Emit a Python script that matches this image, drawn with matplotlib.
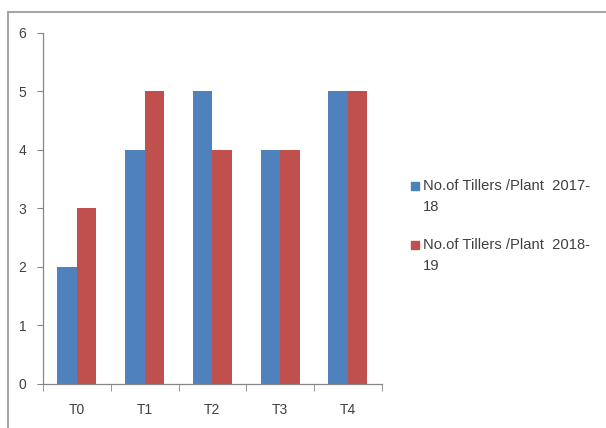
import numpy as np
import matplotlib.pyplot as plt
from matplotlib.lines import Line2D
from matplotlib.patches import Rectangle

# tillers per plant for each treatment
treatments = ['T0', 'T1', 'T2', 'T3', 'T4']
tillers_2017 = [2, 4, 5, 4, 5]
tillers_2018 = [3, 5, 4, 4, 5]
series_labels = ['No.of Tillers /Plant  2017-\n18', 'No.of Tillers /Plant  2018-\n19']
series_colors = ['#4F81BD', '#C0504D']

plt.rcParams['font.family'] = ['Liberation Sans', 'DejaVu Sans']

W, H = 606, 428
fig = plt.figure(figsize=(W / 100, H / 100), dpi=100)
ax = fig.add_axes([0.071, 0.103, 0.559, 0.820])

x = np.arange(len(treatments))
w = 0.287
ax.bar(x - w/2, tillers_2017, w, color=series_colors[0])
ax.bar(x + w/2, tillers_2018, w, color=series_colors[1])

ax.set_xlim(-0.5, len(treatments) - 0.5)
ax.set_ylim(0, 6)
ax.set_yticks(range(0, 7))
ax.set_xticks(x)
ax.set_xticklabels(treatments)
ax.set_xticks(np.arange(-0.5, len(treatments)), minor=True)
ax.tick_params(axis='x', which='major', length=0, pad=14, labelsize=10, colors='#404040')
ax.tick_params(axis='x', which='minor', length=5, color='#868686', direction='out')
ax.tick_params(axis='y', length=4, color='#868686', labelsize=10, labelcolor='#404040', pad=8)

for s in ['top', 'right']:
    ax.spines[s].set_visible(False)
for s in ['left', 'bottom']:
    ax.spines[s].set_color('#868686')
    ax.spines[s].set_linewidth(0.9)

# legend drawn by hand so the swatch sits beside the first text line
for i, (lab, col) in enumerate(zip(series_labels, series_colors)):
    yc = 185.5 + i * 59
    fig.add_artist(Rectangle((411 / W, 1 - (yc + 4) / H), 8 / W, 8 / H,
                             transform=fig.transFigure, color=col))
    fig.text(423 / W, 1 - (yc - 6) / H, lab, fontsize=10.6, color='#404040',
             va='top', ha='left', linespacing=1.63)

# chart area border (top and left edges)
fig.add_artist(Line2D([8/W, 1], [1 - 12/H, 1 - 12/H], color='#A6A6A6', lw=1.5))
fig.add_artist(Line2D([8/W, 8/W], [0, 1 - 12/H], color='#A6A6A6', lw=1.5))

fig.savefig('out.png', dpi=100)
